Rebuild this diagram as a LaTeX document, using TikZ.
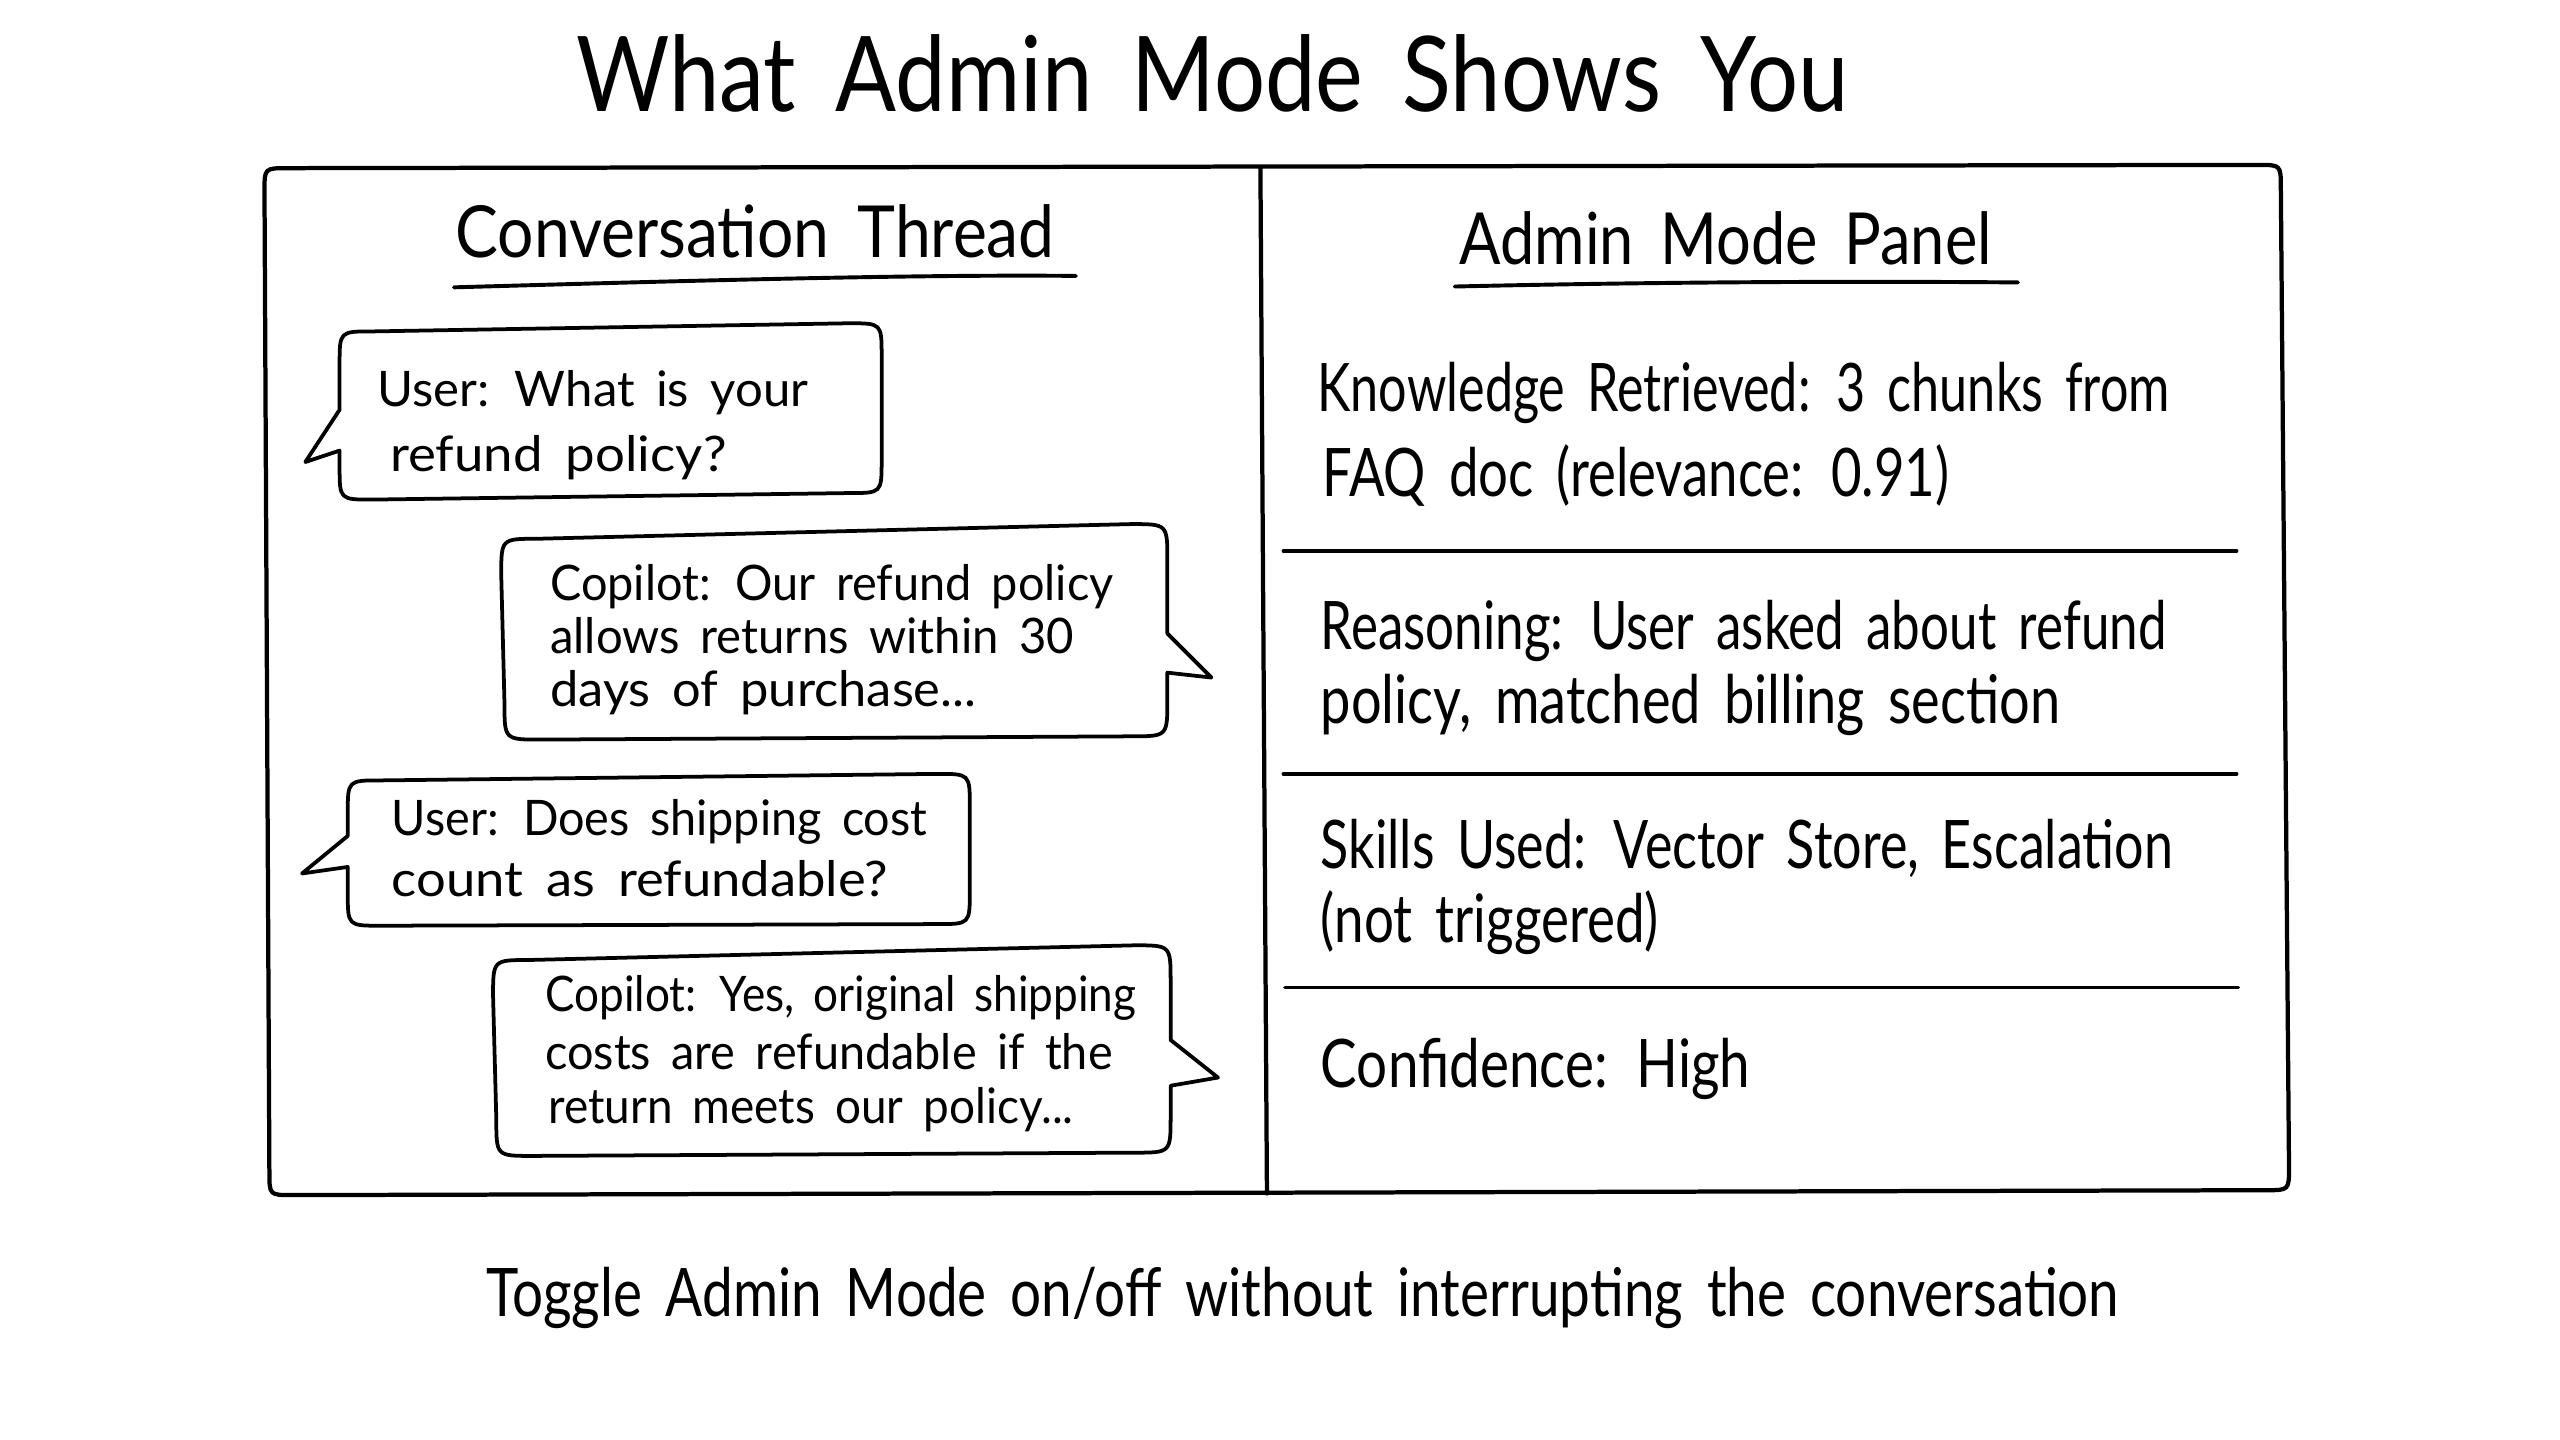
\documentclass[tikz,border=0pt]{standalone}
\usepackage{fontspec}
\usepackage{graphicx}
\newfontfamily\hand[WordSpace=1.7]{Lato}
\newcommand\fitw[2]{\resizebox{#1pt}{\height}{#2}}
\tikzset{
  txtbase/.style={anchor=base west, inner sep=0pt, outer sep=0pt},
  ttl/.style={txtbase, font={\hand\fontsize{64}{70}\selectfont}},
  head/.style={txtbase, font={\hand\fontsize{44}{50}\selectfont}},
  ptxt/.style={txtbase, font={\hand\fontsize{41}{48}\selectfont}},
  btxt/.style={txtbase, font={\hand\fontsize{30}{36}\selectfont}},
  captxt/.style={txtbase, font={\hand\fontsize{41}{48}\selectfont}},
  frame/.style={line width=2.6pt, line join=round, line cap=round},
  bubble/.style={line width=2.3pt, line join=round, line cap=round, fill=white},
  sepline/.style={line width=2.1pt, line cap=round},
  uline/.style={line width=2.4pt, line cap=round}
}
\begin{document}
\begin{tikzpicture}[x=1pt, y=-1pt]
\fill[white] (0,0) rectangle (1568,882);
\useasboundingbox (0,0) rectangle (1568,882);

% title
\node[ttl] (title) at (353,68.5) {\fitw{779}{What Admin Mode Shows You}};

% outer frame
\draw[frame] (176,103) -- (1383,101) .. controls (1397,101) .. (1397,115)
  -- (1402,715) .. controls (1402,729) .. (1388,729)
  -- (179,732) .. controls (165,732) .. (165,718)
  -- (162,117) .. controls (162,103) .. (176,103) -- cycle;
\coordinate (divtop) at (772,103);
\coordinate (divbot) at (776,731);
\draw[frame] (divtop) -- (divbot);

% headings
\node[head] (hconv) at (279,158) {\fitw{367}{Conversation Thread}};
\coordinate (u1a) at (278,176);
\coordinate (u1b) at (659,169);
\draw[uline] (u1a) .. controls (420,172) and (560,168) .. (u1b);
\node[head] (hadmin) at (894,162) {\fitw{326}{Admin Mode Panel}};
\coordinate (u2a) at (891,175.5);
\coordinate (u2b) at (1236,173);
\draw[uline] (u2a) .. controls (1000,173) and (1120,172) .. (u2b);

% bubble 1 (user, tail left)
\draw[bubble] (228,203) -- (520,198) .. controls (540,198) .. (540,218)
  -- (540,282) .. controls (540,302) .. (520,302)
  -- (228,306) .. controls (208,306) .. (208,286)
  -- (208,276) -- (187,283) -- (208,251)
  -- (208,223) .. controls (208,203) .. (228,203) -- cycle;
\node[btxt] (b1a) at (231,249) {\fitw{264}{User: What is your}};
\node[btxt] (b1b) at (239,289) {\fitw{206}{refund policy?}};

% bubble 2 (copilot, tail right)
\draw[bubble] (329,330) -- (693,321) .. controls (715,321) .. (715,343)
  -- (715,388) -- (742,415) -- (715,412)
  -- (715,429) .. controls (715,451) .. (693,451)
  -- (331,453) .. controls (309,453) .. (309,431)
  -- (307,352) .. controls (307,330) .. (329,330) -- cycle;
\node[btxt] (b2a) at (337,367.5) {\fitw{345}{Copilot: Our refund policy}};
\node[btxt] (b2b) at (337,400) {\fitw{321}{allows returns within 30}};
\node[btxt] (b2c) at (337,433) {\fitw{261}{days of purchase...}};

% bubble 3 (user, tail left)
\draw[bubble] (233,478) -- (574,474) .. controls (594,474) .. (594,494)
  -- (594,546) .. controls (594,566) .. (574,566)
  -- (233,567) .. controls (213,567) .. (213,547)
  -- (213,531) -- (185,535) -- (213,512)
  -- (213,498) .. controls (213,478) .. (233,478) -- cycle;
\node[btxt] (b3a) at (240,511.5) {\fitw{328}{User: Does shipping cost}};
\node[btxt] (b3b) at (240,549) {\fitw{304}{count as refundable?}};

% bubble 4 (copilot, tail right)
\draw[bubble] (324,588) -- (695,579) .. controls (717,579) .. (717,601)
  -- (717,637) -- (746,660) -- (717,665)
  -- (717,684) .. controls (717,706) .. (695,706)
  -- (326,708) .. controls (304,708) .. (304,686)
  -- (302,610) .. controls (302,588) .. (324,588) -- cycle;
\node[btxt] (b4a) at (334,619.5) {\fitw{362}{Copilot: Yes, original shipping}};
\node[btxt] (b4b) at (334,655) {\fitw{347.5}{costs are refundable if the}};
\node[btxt] (b4c) at (336,688) {\fitw{321.5}{return meets our policy...}};

% admin panel entries
\node[ptxt] (k1) at (807,252) {\fitw{522}{Knowledge Retrieved: 3 chunks from}};
\node[ptxt] (k2) at (810,304) {\fitw{384}{FAQ doc (relevance: 0.91)}};
\coordinate (s1a) at (786,337.5);
\coordinate (s1b) at (1370,337.5);
\draw[sepline] (s1a) -- (s1b);
\node[ptxt] (r1) at (809,398) {\fitw{518}{Reasoning: User asked about refund}};
\node[ptxt] (r2) at (809,443) {\fitw{453}{policy, matched billing section}};
\coordinate (s2a) at (786,474);
\coordinate (s2b) at (1370,474);
\draw[sepline] (s2a) -- (s2b);
\node[ptxt] (sk1) at (809,532) {\fitw{522}{Skills Used: Vector Store, Escalation}};
\node[ptxt] (sk2) at (809,577) {\fitw{207}{(not triggered)}};
\coordinate (s3a) at (787,605);
\coordinate (s3b) at (1371,605);
\draw[sepline] (s3a) -- (s3b);
\node[ptxt] (conf) at (809,666) {\fitw{263}{Confidence: High}};

% caption
\node[captxt] (caption) at (298,806.5) {\fitw{1000}{Toggle Admin Mode on/off without interrupting the conversation}};
\end{tikzpicture}
\end{document}
